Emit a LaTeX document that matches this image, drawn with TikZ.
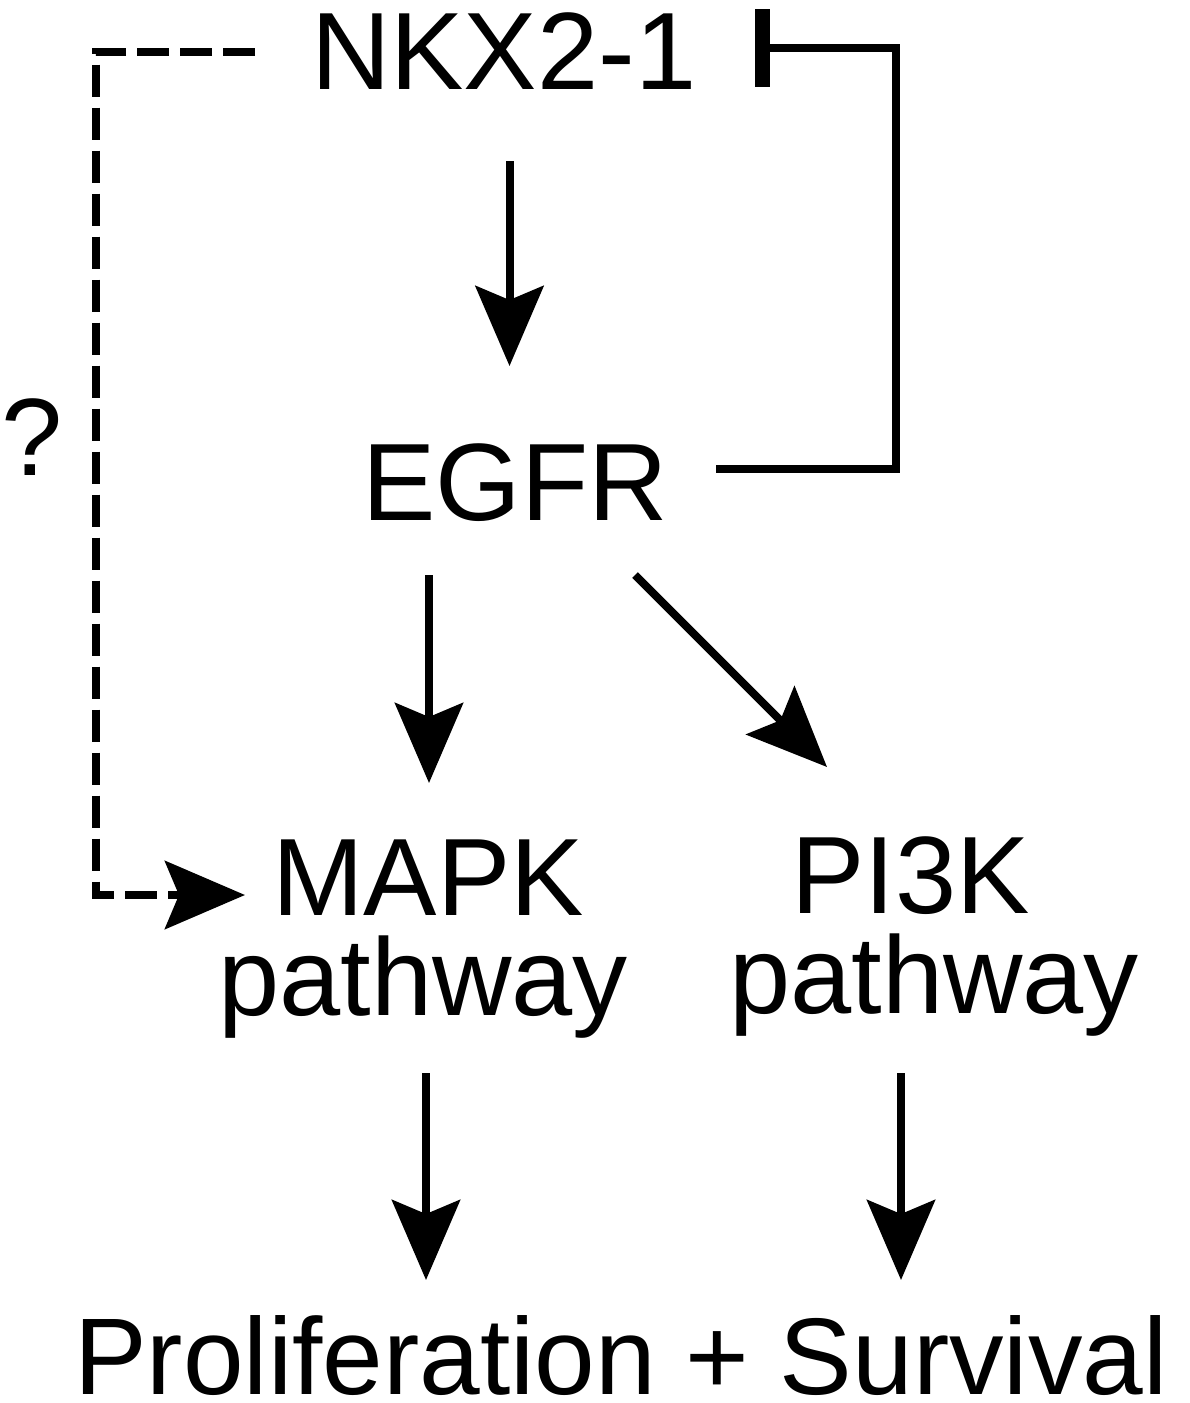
\documentclass[tikz,border=0pt]{standalone}
\usepackage{fontspec}
\setmainfont{Liberation Sans}
\usetikzlibrary{arrows.meta,calc}
\begin{document}
\begin{tikzpicture}[x=1pt,y=-1pt,
  lbl/.style={inner sep=0pt, anchor=base west, font=\fontsize{110}{112}\selectfont},
  arr/.style={line width=8pt, -{Stealth[length=80pt,width=68pt,inset=14pt]}},
  inh/.style={line width=8pt, -{Bar[width=78pt,line width=15pt]}},
  dsh/.style={line width=8pt, dash pattern=on 32pt off 11pt, -{Stealth[length=80pt,width=68pt,inset=14pt]}}]
\useasboundingbox (0,0) rectangle (1189,1403);
\node[lbl] (nkx) at (311,89) {NKX2-1};
\node[lbl] (egfr) at (362,520) {EGFR};
\node[lbl] (mapk) at (272,915) {MAPK};
\node[lbl] (mapkp) at (218,1015) {pathway};
\node[lbl] (pi3k) at (791,913) {PI3K};
\node[lbl] (pi3kp) at (729,1013) {pathway};
\node[lbl, font=\fontsize{109}{111}\selectfont] (prolif) at (74,1394) {Proliferation + Survival};
\node[lbl] (q) at (1,475) {?};
% activations
\draw[arr] ($(nkx.base west)+(198.5,72)$) -- ($(egfr.base west)+(147.5,-154)$);
\draw[arr] ($(egfr.base west)+(67,55)$) -- ($(mapk.base west)+(157,-132)$);
\draw[arr] ($(egfr.base west)+(273,55)$) -- ($(pi3k.base west)+(36,-146)$);
\draw[arr] ($(mapkp.base west)+(208,58)$) -- ($(prolif.base west)+(352,-114)$);
\draw[arr] ($(pi3kp.base west)+(172,60)$) -- ($(prolif.base west)+(827,-114)$);
% inhibition
\draw[inh] ($(egfr.base west)+(354,-51)$) -- ++(180,0) |- ($(nkx.base west)+(444,-41.5)$);
% dashed
\draw[dsh] ($(nkx.base west)+(-56,-37)$) -- ++(-159.5,0) |- ($(mapk.base west)+(-27,-20)$);
\end{tikzpicture}
\end{document}
